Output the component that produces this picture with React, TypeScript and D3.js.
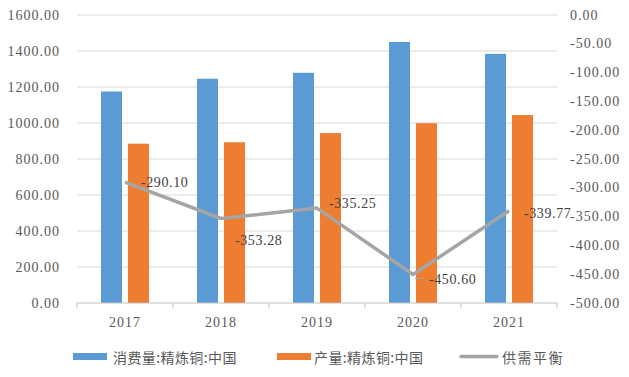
import React from "react";
import * as d3 from "d3";

const years = ["2017", "2018", "2019", "2020", "2021"];
const consumption = [1175, 1246, 1279, 1450, 1384];
const production = [885, 893, 944, 999, 1044];
const balance = [-290.1, -353.28, -335.25, -450.6, -339.77];
const leftTicks = [0, 200, 400, 600, 800, 1000, 1200, 1400, 1600];
const rightTicks = [0, -50, -100, -150, -200, -250, -300, -350, -400, -450, -500];
const seriesNames = ["消费量:精炼铜:中国", "产量:精炼铜:中国", "供需平衡"];

const labelOffsets = [
  [16, 0],
  [14, 22],
  [12, -5],
  [16, 5],
  [15, 3],
];

const W = 629;
const H = 377;
const left = 77;
const right = 557;
const top = 15;
const bottom = 303;

const textColor = "#595959";
const blue = "#5b9bd5";
const orange = "#ed7d31";
const gray = "#a5a5a5";
const serif = "'Liberation Serif', 'Times New Roman', serif";
const cjk = "'Noto Sans CJK SC', sans-serif";

const fmt = (v: number) => v.toFixed(2);

export default function App() {
  const x = d3.scaleBand<string>().domain(years).range([left, right]);
  const yL = d3.scaleLinear().domain([0, 1600]).range([bottom, top]);
  const yR = d3.scaleLinear().domain([-500, 0]).range([bottom, top]);
  const barW = 21;
  const gap = 6;
  const line = d3
    .line<number>()
    .x((_, i) => (x(years[i]) as number) + x.bandwidth() / 2)
    .y((d) => yR(d));

  return (
    <svg width={W} height={H} style={{ position: "absolute", left: 0, top: 0, background: "#fff" }}>
      {leftTicks.map((t) => (
        <g key={t}>
          {t !== 0 && (
            <line x1={left} x2={right} y1={yL(t)} y2={yL(t)} stroke="#d9d9d9" strokeWidth={1} />
          )}
          <text
            x={60}
            y={yL(t)}
            textAnchor="end"
            dominantBaseline="central"
            fontFamily={serif}
            fontSize={14}
            letterSpacing={1}
            fill={textColor}
          >
            {fmt(t)}
          </text>
        </g>
      ))}
      {rightTicks.map((t) => (
        <text
          key={t}
          x={570}
          y={yR(t)}
          textAnchor="start"
          dominantBaseline="central"
          fontFamily={serif}
          fontSize={14}
          letterSpacing={1}
          fill={textColor}
        >
          {fmt(t)}
        </text>
      ))}
      {years.map((yr, i) => {
        const cx = (x(yr) as number) + x.bandwidth() / 2;
        return (
          <g key={yr}>
            <rect
              x={cx - gap / 2 - barW}
              y={yL(consumption[i])}
              width={barW}
              height={bottom - yL(consumption[i])}
              fill={blue}
            />
            <rect
              x={cx + gap / 2}
              y={yL(production[i])}
              width={barW}
              height={bottom - yL(production[i])}
              fill={orange}
            />
            <text
              x={cx}
              y={322}
              textAnchor="middle"
              dominantBaseline="central"
              fontFamily={serif}
              fontSize={14}
              letterSpacing={1}
              fill={textColor}
            >
              {yr}
            </text>
          </g>
        );
      })}
      <line x1={left} x2={right} y1={bottom} y2={bottom} stroke="#bfbfbf" strokeWidth={1} />
      {[...years.map((y) => x(y) as number), right].map((tx, i) => (
        <line key={i} x1={tx} x2={tx} y1={bottom} y2={bottom + 5} stroke="#bfbfbf" strokeWidth={1} />
      ))}
      <path d={line(balance) || ""} fill="none" stroke={gray} strokeWidth={3.5} strokeLinejoin="round" />
      <line
        x1={(x("2020") as number) + x.bandwidth() / 2 + 2}
        x2={(x("2020") as number) + x.bandwidth() / 2 + 12}
        y1={yR(-450.6) + 4}
        y2={yR(-450.6) + 4}
        stroke={gray}
        strokeWidth={1}
      />
      {balance.map((v, i) => {
        const cx = (x(years[i]) as number) + x.bandwidth() / 2;
        return (
          <text
            key={i}
            x={cx + labelOffsets[i][0]}
            y={yR(v) + labelOffsets[i][1]}
            dominantBaseline="central"
            fontFamily={serif}
            fontSize={14}
            letterSpacing={0.6}
            fill="#404040"
          >
            {fmt(v)}
          </text>
        );
      })}
      <rect x={73} y={353} width={34} height={7} fill={blue} />
      <text x={113} y={357} dominantBaseline="central" fontFamily={cjk} fontSize={14} letterSpacing={0.4} fill={textColor}>
        {seriesNames[0]}
      </text>
      <rect x={277} y={353} width={34} height={7} fill={orange} />
      <text x={314} y={357} dominantBaseline="central" fontFamily={cjk} fontSize={14} letterSpacing={0.4} fill={textColor}>
        {seriesNames[1]}
      </text>
      <line x1={461} x2={497} y1={356.5} y2={356.5} stroke={gray} strokeWidth={3.5} strokeLinecap="round" />
      <text x={502} y={357} dominantBaseline="central" fontFamily={cjk} fontSize={14} letterSpacing={1.5} fill={textColor}>
        {seriesNames[2]}
      </text>
    </svg>
  );
}
